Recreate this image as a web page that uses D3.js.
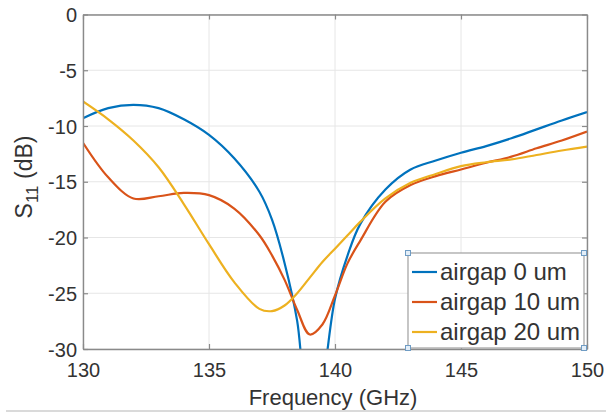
<!DOCTYPE html>
<html>
<head>
<meta charset="utf-8">
<script src="https://cdn.jsdelivr.net/npm/d3@7"></script>
<style>
  body { margin: 0; background: #fff; }
  text { font-family: "Liberation Sans", Arial, sans-serif; fill: #333; }
</style>
</head>
<body>
<script>
// frequency grid (GHz) and S11 (dB) for each airgap
var freq = [130, 131, 132, 133, 134, 135, 136, 137, 137.5, 138, 138.5, 139, 139.5, 140, 140.5, 141, 142, 143, 144, 145, 146, 147, 148, 149, 150];
var gap0 = [-9.3, -8.4, -8.1, -8.4, -9.4, -10.8, -12.9, -15.9, -18.4, -22.3, -27.5, -37, -33, -25.5, -21.6, -18.8, -15.7, -13.9, -13.1, -12.4, -11.8, -11.1, -10.3, -9.5, -8.75];
var gap10 = [-11.5, -14.6, -16.5, -16.3, -16.0, -16.2, -17.4, -19.8, -21.6, -23.8, -26.5, -28.7, -27.8, -25.2, -22.3, -20.3, -16.8, -15.3, -14.5, -13.9, -13.3, -12.75, -12.0, -11.3, -10.5];
var gap20 = [-7.8, -9.4, -11.3, -13.7, -17.0, -20.6, -24.0, -26.4, -26.6, -26.1, -25.0, -23.6, -22.2, -21.0, -19.8, -18.6, -16.5, -15.1, -14.3, -13.6, -13.25, -13.0, -12.6, -12.2, -11.85];
var seriesNames = ["airgap 0 um", "airgap 10 um", "airgap 20 um"];
var colors = ["#0072BD", "#D95319", "#EDB120"];
var xTicks = [130, 135, 140, 145, 150];
var yTicks = [0, -5, -10, -15, -20, -25, -30];

var width = 606, height = 414;
var mLeft = 83, mRight = 587, mTop = 14.5, mBottom = 349;

var svg = d3.select("body").append("svg")
    .attr("width", width)
    .attr("height", height);

var x = d3.scaleLinear().domain([130, 150]).range([mLeft, mRight]);
var y = d3.scaleLinear().domain([-30, 0]).range([mBottom, mTop]);

// grid
svg.selectAll(".gx").data(xTicks).enter().append("line")
    .attr("x1", d => x(d)).attr("x2", d => x(d))
    .attr("y1", mTop).attr("y2", mBottom)
    .attr("stroke", "#e6e6e6").attr("stroke-width", 1);
svg.selectAll(".gy").data(yTicks).enter().append("line")
    .attr("x1", mLeft).attr("x2", mRight)
    .attr("y1", d => y(d)).attr("y2", d => y(d))
    .attr("stroke", "#e6e6e6").attr("stroke-width", 1);

// clip for curves
svg.append("clipPath").attr("id", "clip").append("rect")
    .attr("x", mLeft).attr("y", mTop).attr("width", mRight - mLeft).attr("height", mBottom - mTop);

var line = d3.line()
    .x(d => x(d[0]))
    .y(d => y(d[1]))
    .curve(d3.curveCatmullRom.alpha(0.5));

[gap0, gap10, gap20].forEach(function (vals, i) {
  svg.append("path")
      .attr("clip-path", "url(#clip)")
      .attr("d", line(freq.map((f, j) => [f, vals[j]])))
      .attr("fill", "none")
      .attr("stroke", colors[i])
      .attr("stroke-width", 2.2);
});

// axes (ticks inside), plain hyphen for negatives
var axisColor = "#8a8a8a";
var fmt = d => String(d);
var xb = svg.append("g").attr("transform", "translate(0," + mBottom + ")")
    .call(d3.axisBottom(x).tickValues(xTicks).tickFormat(fmt).tickSizeInner(-5).tickSizeOuter(0).tickPadding(14));
var xt = svg.append("g").attr("transform", "translate(0," + mTop + ")")
    .call(d3.axisTop(x).tickValues(xTicks).tickSizeInner(-5).tickSizeOuter(0).tickFormat(""));
var yl = svg.append("g").attr("transform", "translate(" + mLeft + ",0)")
    .call(d3.axisLeft(y).tickValues(yTicks).tickFormat(fmt).tickSizeInner(-5).tickSizeOuter(0).tickPadding(6));
var yr = svg.append("g").attr("transform", "translate(" + mRight + ",0)")
    .call(d3.axisRight(y).tickValues(yTicks).tickSizeInner(-5).tickSizeOuter(0).tickFormat(""));

[xb, xt, yl, yr].forEach(function (g) {
  g.select(".domain").attr("stroke", axisColor).attr("stroke-width", 1.4);
  g.selectAll(".tick line").attr("stroke", axisColor).attr("stroke-width", 1.2);
  g.selectAll("text").style("font-size", "20px").attr("fill", "#333");
});
yl.selectAll("text").attr("dy", "0.35em");

// axis labels
svg.append("text")
    .attr("x", (mLeft + mRight) / 2 - 2).attr("y", 405)
    .attr("text-anchor", "middle")
    .style("font-size", "22px")
    .text("Frequency (GHz)");

var yLab = svg.append("text")
    .attr("transform", "translate(32,177) rotate(-90)")
    .attr("text-anchor", "middle")
    .style("font-size", "23px");
yLab.append("tspan").text("S");
yLab.append("tspan").attr("dy", 6).style("font-size", "17px").text("11");
yLab.append("tspan").attr("dy", -6).text(" (dB)");

// legend
var lg = svg.append("g");
var lx = 408, ly = 253, lw = 176, lh = 95;
lg.append("rect")
    .attr("x", lx).attr("y", ly).attr("width", lw).attr("height", lh)
    .attr("fill", "#fff").attr("stroke", "#a0a0a0").attr("stroke-width", 1.2);
seriesNames.forEach(function (name, i) {
  var cy = 272 + i * 30;
  lg.append("line")
      .attr("x1", 412).attr("x2", 437).attr("y1", cy).attr("y2", cy)
      .attr("stroke", colors[i]).attr("stroke-width", 2.2);
  lg.append("text")
      .attr("x", 440).attr("y", cy + 8)
      .style("font-size", "24px")
      .attr("fill", "#222")
      .text(name);
});
[[lx, ly], [lx + lw, ly], [lx, ly + lh], [lx + lw, ly + lh]].forEach(function (p) {
  lg.append("rect")
      .attr("x", p[0] - 2.5).attr("y", p[1] - 2.5).attr("width", 5).attr("height", 5)
      .attr("fill", "#e3eef8").attr("stroke", "#6f9cc4").attr("stroke-width", 1);
});

// thin frame line along the bottom of the picture
svg.append("line")
    .attr("x1", 6).attr("x2", width).attr("y1", 411).attr("y2", 411)
    .attr("stroke", "#b5b5b5").attr("stroke-width", 1.2);
</script>
</body>
</html>
